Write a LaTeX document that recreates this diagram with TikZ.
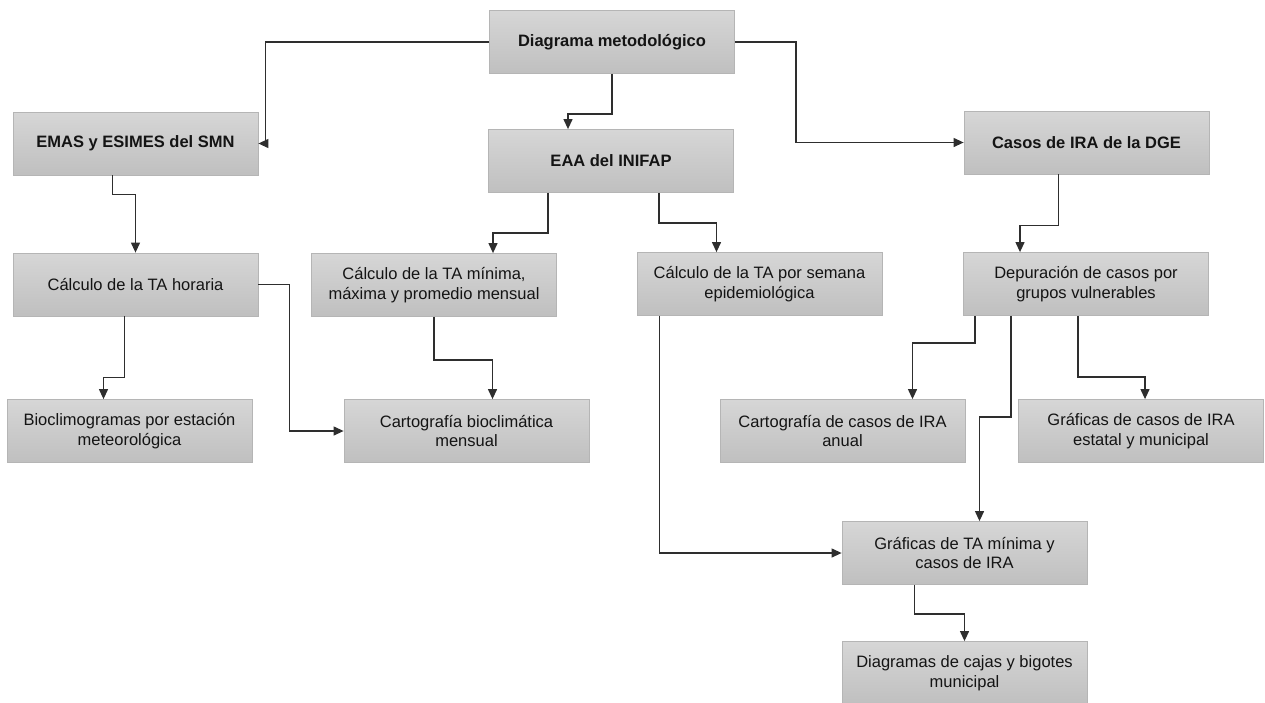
\documentclass[tikz,border=0pt]{standalone}
\usepackage{fontspec}
\setmainfont{Liberation Sans}
\usetikzlibrary{arrows.meta}

\begin{document}
\begin{tikzpicture}[
		x=1pt, y=-1pt,
		>={Triangle[length=10pt, width=9pt]},
		blok/.style={rectangle, draw=gray!58, line width=0.8pt, top color=gray!32, bottom color=gray!50,
			minimum width=245pt, minimum height=63pt, align=center, text=black!92,
			font=\fontsize{16.5}{19.5}\selectfont},
		titel/.style={blok, font=\fontsize{16.5}{19.5}\selectfont\bfseries},
		conn/.style={->, draw=black!82, line width=1.2pt}
		]
		\useasboundingbox (0,0) rectangle (1265,702);
		
		% Top level
		\node[titel] (diag) at (612,42) {Diagrama metodológico};
		
		% Data sources
		\node[titel] (emas) at (135.5,143.5) {EMAS y ESIMES del SMN};
		\node[titel] (eaa) at (611,161) {EAA del INIFAP};
		\node[titel] (casos) at (1086.5,142.5) {Casos de IRA de la DGE};
		
		% Processing
		\node[blok] (horaria) at (135.5,284.5) {Cálculo de la TA horaria};
		\node[blok] (minima) at (434,285) {Cálculo de la TA mínima,\\máxima y promedio mensual};
		\node[blok] (semana) at (759.5,284) {Cálculo de la TA por semana\\epidemiológica};
		\node[blok] (depura) at (1086,284) {Depuración de casos por\\grupos vulnerables};
		
		% Products
		\node[blok] (bioclim) at (129.5,431) {Bioclimogramas por estación\\meteorológica};
		\node[blok] (cartobio) at (466.5,431) {Cartografía bioclimática\\mensual};
		\node[blok] (cartoira) at (842.5,431) {Cartografía de casos de IRA\\anual};
		\node[blok] (grafira) at (1141,431) {Gráficas de casos de IRA\\estatal y municipal};
		\node[blok] (grafta) at (964.5,553) {Gráficas de TA mínima y\\casos de IRA};
		\node[blok] (cajas) at (964.5,673) {Diagramas de cajas y bigotes\\municipal};
		
		% Arrows
		\draw[conn] (diag.west) -- ++(-224,0) |- (emas.east);
		\draw[conn] (diag.east) -- ++(61,0) |- (casos.west);
		\draw[conn] (diag.south) -- ++(0,40) -| ([xshift=-43pt]eaa.north);
		\draw[conn] ([xshift=-23pt]emas.south) -- ++(0,19) -| (horaria.north);
		\draw[conn] ([xshift=-11pt]horaria.south) -- ++(0,61) -| ([xshift=-26pt]bioclim.north);
		\draw[conn] (horaria.east) -- ++(31,0) |- (cartobio.west);
		\draw[conn] ([xshift=-63pt]eaa.south) -- ++(0,40) -| ([xshift=59pt]minima.north);
		\draw[conn] ([xshift=48pt]eaa.south) -- ++(0,30) -| ([xshift=-43pt]semana.north);
		\draw[conn] (minima.south) -- ++(0,43) -| ([xshift=26pt]cartobio.north);
		\draw[conn] ([xshift=-100pt]semana.south) |- (grafta.west);
		\draw[conn] ([xshift=-28pt]casos.south) -- ++(0,51) -| ([xshift=-66pt]depura.north);
		\draw[conn] ([xshift=-111pt]depura.south) -- ++(0,27) -| ([xshift=70pt]cartoira.north);
		\draw[conn] ([xshift=-75pt]depura.south) -- ++(0,101) -| ([xshift=15pt]grafta.north);
		\draw[conn] ([xshift=-8pt]depura.south) -- ++(0,61) -| ([xshift=4pt]grafira.north);
		\draw[conn] ([xshift=-50pt]grafta.south) -- ++(0,29) -| (cajas.north);
		
	\end{tikzpicture}
\end{document}
